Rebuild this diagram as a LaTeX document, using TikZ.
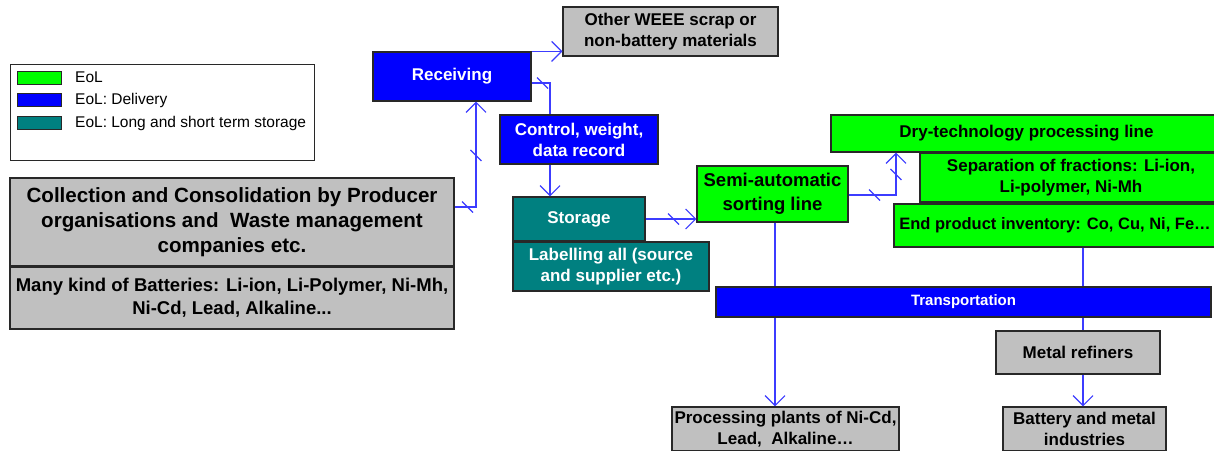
\documentclass[tikz,border=0pt]{standalone}
\usepackage{fontspec}
\setmainfont{Liberation Sans}
\usetikzlibrary{arrows.meta,decorations.markings,backgrounds}

\definecolor{boxgray}{RGB}{192,192,192}
\definecolor{eolgreen}{RGB}{0,255,0}
\definecolor{delblue}{RGB}{0,0,255}
\definecolor{storteal}{RGB}{0,128,128}
\definecolor{flowblue}{RGB}{60,60,255}
\definecolor{edgecol}{RGB}{40,40,40}

\tikzset{
  sz/.style 2 args={minimum width=#1pt, minimum height=#2pt},
  box/.style={draw=edgecol, line width=1.1pt, inner sep=0pt, align=center,
              font=\bfseries\fontsize{17}{21}\selectfont},
  graybox/.style={box, fill=boxgray},
  greenbox/.style={box, fill=eolgreen},
  bluebox/.style={box, fill=delblue, text=white},
  tealbox/.style={box, fill=storteal, text=white},
  swatch/.style={draw=edgecol, line width=0.8pt, inner sep=0pt, minimum width=44pt, minimum height=13pt},
  legtext/.style={anchor=west, inner sep=0pt, font=\fontsize{15.5}{18}\selectfont},
  conn/.style={draw=flowblue, line width=1.2pt},
  flow/.style={conn, -{Straight Barb[length=10pt,width=20pt,line width=1.2pt]}},
  slashat/.style={postaction={decorate,decoration={markings,
      mark=at position #1 with {\pgftransformresetnontranslations
        \draw[conn, -, line cap=butt] (-5.5pt,5.5pt)--(5.5pt,-5.5pt);}}}},
}

\begin{document}
\begin{tikzpicture}[x=1pt,y=-1pt]
\useasboundingbox (0,0) rectangle (1214,450);

% legend
\node[draw=edgecol, line width=0.8pt, fill=white, sz={304}{96}, inner sep=0pt] (legend) at (162,112) {};
\node[swatch, fill=eolgreen] (swg) at (39,77.5) {};
\node[swatch, fill=delblue]  (swb) at (39,100) {};
\node[swatch, fill=storteal] (swt) at (39,123) {};
\node[legtext] (lg) at (75,77.5) {EoL};
\node[legtext] (lb) at (75,100) {EoL: Delivery};
\node[legtext] (lt) at (75,123) {EoL: Long and short term storage};

% source boxes
\node[graybox, sz={444}{88}, font=\bfseries\fontsize{20.6}{24.7}\selectfont] (coll) at (232,222)
  {Collection and Consolidation by Producer\\organisations and\ \ Waste management\\companies etc.};
\node[graybox, sz={444}{62}, font=\bfseries\fontsize{18.5}{23}\selectfont] (many) at (232,298)
  {Many kind of Batteries: Li-ion, Li-Polymer, Ni-Mh,\\Ni-Cd, Lead, Alkaline...};

% delivery and storage
\node[graybox, sz={215}{49}] (other) at (670.5,31.5) {Other WEEE scrap or\\non-battery materials};
\node[bluebox, sz={158}{49}] (recv) at (452,76.5) {Receiving};
\node[bluebox, sz={158}{49}] (ctrl) at (579,139.5) {Control, weight,\\data record};
\node[tealbox, sz={132}{44}] (stor) at (579,219) {Storage};
\node[tealbox, sz={196}{49}] (label) at (611,266.5) {Labelling all (source\\and supplier etc.)};

% processing
\node[greenbox, sz={151}{56}, font=\bfseries\fontsize{18.5}{24}\selectfont] (semi) at (772.5,194)
  {Semi-automatic\\sorting line};
\node[greenbox, sz={391}{37}] (dry) at (1026.5,133.5) {Dry-technology processing line};
\node[greenbox, sz={302}{49}] (sep) at (1071,177.5) {Separation of fractions: Li-ion,\\Li-polymer, Ni-Mh};
\node[greenbox, sz={322}{43}, font=\bfseries\fontsize{16.5}{20}\selectfont] (endp) at (1055,225.5)
  {End product inventory: Co, Cu, Ni, Fe…};

% transport and destinations
\node[bluebox, sz={495}{30}, font=\bfseries\fontsize{15}{18}\selectfont] (trans) at (963.5,302) {Transportation};
\node[graybox, sz={164}{43}] (refin) at (1078,352.5) {Metal refiners};
\node[graybox, sz={227}{44}] (proc) at (785.5,429) {Processing plants of Ni-Cd,\\Lead,\ \ Alkaline…};
\node[graybox, sz={163}{44}] (batt) at (1084.5,429) {Battery and metal\\industries};

% flows
\draw[flow, slashat=13pt, slashat=73pt] ([yshift=15pt]coll.east) -| ([xshift=24pt]recv.south);
\draw[flow] (recv.north east) -- (recv.north east -| other.west);
\draw[conn, slashat=11pt] ([yshift=-6.5pt]recv.east) -| ([xshift=-29pt]ctrl.north);
\draw[flow] ([xshift=-29pt]ctrl.south) -- ([xshift=-29pt]stor.north);
\draw[flow, slashat=28pt] (stor.east) -- (stor.east -| semi.west);
\draw[flow, slashat=26pt, slashat=68pt] ([yshift=-1pt]semi.east) -| ([xshift=-130.5pt]dry.south);
\draw[flow] ([xshift=5pt]refin.south) -- ([xshift=-1.5pt]batt.north);

\begin{pgfonlayer}{background}
\draw[flow] ([xshift=2.5pt]semi.south) -- ([xshift=-10.5pt]proc.north);
\draw[conn] ([xshift=56.5pt]dry.south) -- ([xshift=5pt]refin.north);
\end{pgfonlayer}
\end{tikzpicture}
\end{document}
